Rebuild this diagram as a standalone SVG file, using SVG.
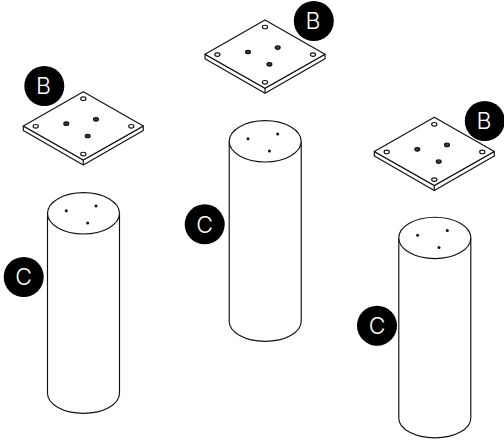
<svg xmlns="http://www.w3.org/2000/svg" xmlns:xlink="http://www.w3.org/1999/xlink" width="504" height="441" viewBox="0 0 504 441">
<style>
.l{fill:#fff;stroke:#111;stroke-width:1.15;stroke-linejoin:round}
.d{fill:#444;stroke:#111;stroke-width:1.3}
.s{fill:#111;stroke:none}
.b{fill:#000}
.t{fill:#fff;font-family:"Inter","Lato",sans-serif;font-size:23px;text-anchor:middle;font-weight:300}
</style>
<defs>
<g id="plate">
<path class="l" d="M23.3 126L83.3 160L143.3 126V130.5L83.3 165L23.3 130.5Z"/>
<path class="l" d="M83.3 160V165"/>
<path class="l" d="M83.3 91.7L143.3 126L83.3 160L23.3 126Z"/>
<g class="l"><ellipse cx="83.3" cy="98.7" rx="2.6" ry="1.8"/><ellipse cx="35.7" cy="126.3" rx="2.6" ry="1.8"/><ellipse cx="131.3" cy="126.3" rx="2.6" ry="1.8"/><ellipse cx="83.3" cy="154" rx="2.6" ry="1.8"/></g>
<g class="d"><ellipse cx="66.3" cy="123.7" rx="2.4" ry="1.7"/><ellipse cx="96" cy="119.3" rx="2.4" ry="1.7"/><ellipse cx="87.7" cy="136" rx="2.4" ry="1.7"/></g>
</g>
<g id="cyl">
<path class="l" d="M47.5 213.3V393.3C47.5 404.5 63.5 413.3 83.5 413.3S119.5 404.5 119.5 393.3V213.3"/>
<ellipse class="l" cx="83.5" cy="213.3" rx="36" ry="20.7"/>
<circle class="s" cx="66.3" cy="210.7" r="1.5"/><circle class="s" cx="96" cy="206" r="1.5"/><circle class="s" cx="87.7" cy="223" r="1.5"/>
</g>
</defs>
<g id="plate-1"><use xlink:href="#plate" href="#plate"/></g>
<g id="plate-2"><use xlink:href="#plate" href="#plate" transform="translate(181.7 -71.7)"/></g>
<g id="plate-3"><use xlink:href="#plate" href="#plate" transform="translate(351 25.6)"/></g>
<g id="cylinder-1"><use xlink:href="#cyl" href="#cyl"/></g>
<g id="cylinder-2"><use xlink:href="#cyl" href="#cyl" transform="translate(181.7 -72)"/></g>
<g id="cylinder-3"><use xlink:href="#cyl" href="#cyl" transform="translate(351.3 24.6)"/></g>
<g id="badge-b1"><circle class="b" cx="44.3" cy="86" r="20"/><text class="t" x="43.5" y="94.3">B</text></g>
<g id="badge-b2"><circle class="b" cx="313.8" cy="21" r="20"/><text class="t" x="313" y="29.3">B</text></g>
<g id="badge-b3"><circle class="b" cx="484.8" cy="121" r="20"/><text class="t" x="484" y="129.3">B</text></g>
<g id="badge-c1"><circle class="b" cx="23.7" cy="277" r="20"/><text class="t" x="23.7" y="285.3">C</text></g>
<g id="badge-c2"><circle class="b" cx="204.7" cy="224.3" r="20"/><text class="t" x="204.7" y="232.6">C</text></g>
<g id="badge-c3"><circle class="b" cx="377" cy="325.7" r="20"/><text class="t" x="377" y="334">C</text></g>
</svg>
